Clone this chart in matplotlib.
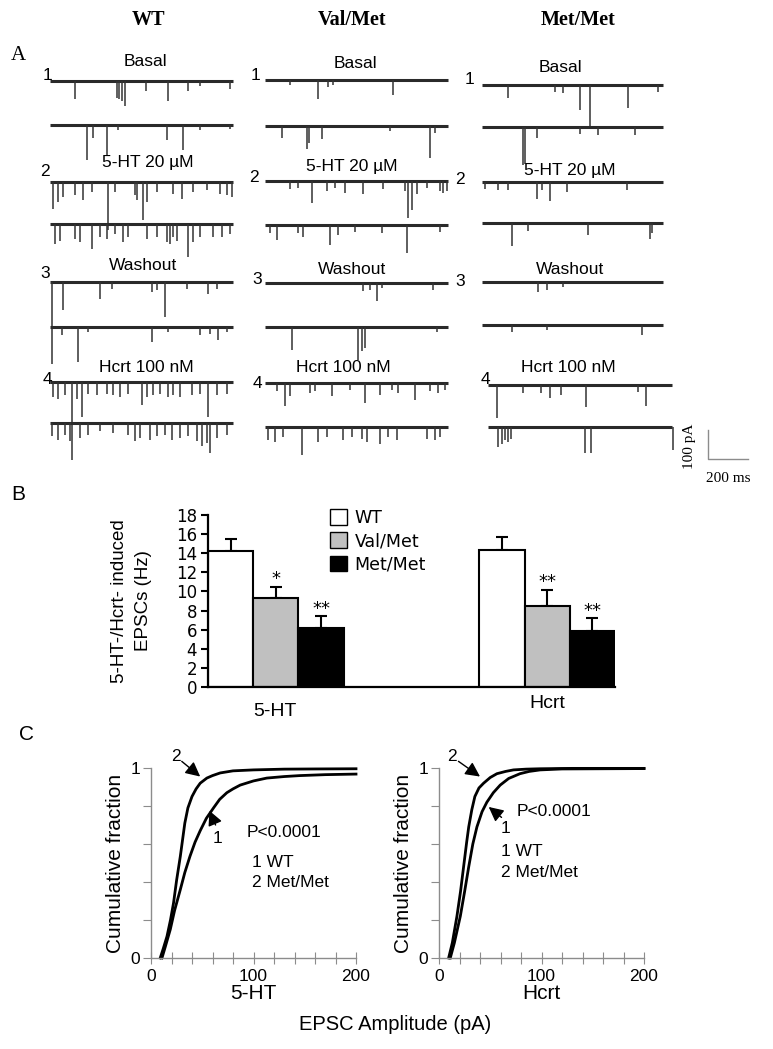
import matplotlib
matplotlib.use('Agg')
import matplotlib.pyplot as plt
from matplotlib.patches import Patch

W, H = 773, 1049

# ---- panel A: EPSC events per trace, (time ms, amplitude pA) ----
genotypes = ['WT', 'Val/Met', 'Met/Met']
conditions = ['Basal', '5-HT 20 µM', 'Washout', 'Hcrt 100 nM']

wt_events = [
    [(125, 63), (337, 58), (347, 63), (358, 69), (375, 86), (478, 35), (592, 69), (692, 35), (750, 17), (900, 29)],
    [(187, 120), (217, 46), (283, 103), (342, 17), (583, 52), (667, 86), (750, 17), (900, 15)],
    [(17, 92), (42, 69), (67, 52), (125, 46), (167, 63), (208, 35), (292, 167), (325, 35), (425, 46), (433, 63),
     (467, 132), (483, 69), (533, 35), (617, 40), (658, 58), (717, 35), (783, 29), (850, 40), (883, 46), (908, 52)],
    [(25, 69), (50, 58), (125, 52), (150, 63), (208, 86), (250, 46), (283, 52), (325, 35), (367, 63), (392, 46),
     (483, 52), (533, 46), (583, 63), (600, 69), (617, 46), (633, 58), (692, 115), (717, 63), (750, 46), (817, 46),
     (858, 46), (900, 35)],
    [(8, 282), (67, 98), (250, 58), (308, 23), (508, 35), (533, 29), (575, 121), (683, 23), (792, 40), (833, 23)],
    [(58, 29), (142, 121), (192, 17), (508, 52), (592, 17), (750, 29), (800, 23), (842, 46), (883, 17)],
    [(17, 52), (42, 58), (75, 46), (108, 270), (133, 58), (158, 121), (192, 40), (233, 46), (283, 40), (317, 46),
     (350, 52), (392, 40), (458, 80), (483, 52), (517, 46), (550, 40), (592, 52), (617, 46), (650, 52), (708, 46),
     (750, 40), (792, 121), (833, 46), (883, 40)],
    [(8, 46), (42, 58), (75, 40), (100, 63), (150, 52), (192, 40), (250, 29), (317, 35), (392, 40), (425, 63),
     (450, 52), (500, 58), (533, 46), (575, 40), (608, 58), (650, 52), (692, 46), (733, 63), (758, 80), (783, 69),
     (800, 104), (833, 52), (883, 40)],
]

valmet_events = [
    [(125, 17), (267, 66), (317, 23), (342, 17), (642, 52)],
    [(83, 40), (208, 80), (222, 58), (283, 46), (625, 17), (825, 112), (850, 23)],
    [(125, 29), (167, 23), (233, 77), (308, 35), (350, 23), (400, 40), (492, 46), (592, 29), (700, 35), (717, 129),
     (733, 100), (758, 46), (808, 23), (875, 35), (892, 40), (908, 35)],
    [(25, 29), (58, 52), (167, 29), (192, 40), (325, 69), (367, 35), (450, 23), (583, 29), (708, 98), (875, 23)],
    [(492, 29), (525, 23), (558, 63), (583, 17), (842, 23)],
    [(133, 78), (467, 113), (483, 84), (500, 72), (858, 17)],
    [(58, 29), (100, 80), (125, 46), (225, 35), (250, 29), (333, 46), (425, 23), (500, 69), (575, 40), (633, 23),
     (667, 35), (750, 58), (825, 29), (867, 35), (900, 23)],
    [(17, 46), (50, 52), (92, 35), (183, 95), (267, 52), (308, 35), (392, 46), (433, 35), (483, 40), (508, 52),
     (575, 58), (617, 35), (658, 46), (808, 40), (850, 46), (875, 35)],
]

metmet_events = [
    [(130, 46), (365, 23), (407, 29), (490, 86), (540, 144), (732, 80), (882, 23)],
    [(207, 130), (215, 126), (273, 38), (490, 23), (582, 29), (765, 29)],
    [(15, 23), (80, 29), (130, 29), (275, 60), (300, 29), (340, 67), (423, 35), (723, 29)],
    [(150, 80), (232, 29), (532, 40), (840, 55), (848, 35)],
    [(282, 35), (323, 29), (407, 17)],
    [(148, 23), (323, 17), (798, 35)],
    [(45, 115), (175, 29), (267, 29), (308, 46), (367, 35), (492, 77), (750, 23), (792, 71)],
    [(50, 69), (70, 60), (83, 46), (100, 52), (117, 40), (483, 90), (517, 90), (925, 78)],
]

# ---- panel B: EPSC frequency (Hz) ----
groups = ['5-HT', 'Hcrt']
freq_5ht = [14.2, 9.3, 6.2]
err_5ht = [1.3, 1.2, 1.2]
freq_hcrt = [14.3, 8.5, 5.9]
err_hcrt = [1.4, 1.7, 1.3]
stars_5ht = ['', '*', '**']
stars_hcrt = ['', '**', '**']

# ---- panel C: cumulative fraction of EPSC amplitude (pA) ----
ht_met_x = [9, 12, 15.6, 19, 22, 25, 28.6, 33, 36, 40, 44, 48, 54.5, 60, 67.5, 80, 100, 130, 160, 200]
ht_met_y = [0, 0.05, 0.114, 0.2, 0.29, 0.41, 0.535, 0.71, 0.79, 0.85, 0.89, 0.92, 0.947, 0.96, 0.974, 0.985,
            0.99, 0.994, 0.995, 0.996]
ht_wt_x = [10.7, 14, 18.8, 23, 28.6, 33, 38, 43, 48, 54, 61, 67, 74, 80, 87, 100, 113, 130, 145, 170, 200]
ht_wt_y = [0, 0.06, 0.15, 0.25, 0.36, 0.45, 0.535, 0.61, 0.67, 0.735, 0.79, 0.835, 0.87, 0.89, 0.91, 0.932,
           0.947, 0.955, 0.96, 0.965, 0.968]
hc_met_x = [9.4, 13, 17.5, 21, 24, 27, 29, 32, 35, 39, 43.5, 50, 56.5, 65, 72.7, 85, 98.7, 130, 200]
hc_met_y = [0, 0.08, 0.22, 0.35, 0.48, 0.61, 0.69, 0.78, 0.85, 0.895, 0.92, 0.95, 0.97, 0.982, 0.99, 0.994,
            0.996, 0.998, 0.998]
hc_wt_x = [11, 15, 20.8, 25, 29, 33, 37, 42, 46.7, 53, 59.7, 68, 79, 88, 98.7, 120, 200]
hc_wt_y = [0, 0.08, 0.22, 0.35, 0.48, 0.6, 0.69, 0.77, 0.82, 0.87, 0.91, 0.945, 0.97, 0.982, 0.99, 0.995, 0.997]

SANS = 'Liberation Sans'
SERIF = 'Liberation Serif'
VERD = 'DejaVu Sans'

fig = plt.figure(figsize=(W / 100, H / 100), dpi=100)


def px_axes(x0, y0, x1, y1):
    return fig.add_axes([x0 / W, 1 - y1 / H, (x1 - x0) / W, (y1 - y0) / H])


# overlay in pixel coordinates for panel A and letters
axA = fig.add_axes([0, 0, 1, 1])
axA.set_xlim(0, W)
axA.set_ylim(H, 0)
axA.axis('off')

SX = 40 / 200   # px per ms
SY = 29 / 100   # px per pA

col_x0 = [50, 265, 482]
col_dur = [915, 915, 905]
col_base = [[81, 125, 182, 224, 282, 327, 382, 423],
            [80, 126, 181, 225, 283, 327, 383, 427],
            [85, 127, 182, 223, 282, 325, 385, 427]]
head_x = [148, 352, 578]
cond_pos = [[(145, 62), (148, 163), (143, 266), (146, 368)],
            [(355, 64), (352, 166), (352, 270), (343, 368)],
            [(560, 68), (570, 170), (570, 270), (568, 367)]]
num_pos = [[(48, 76), (45, 172), (45, 273), (47, 380)],
           [(256, 75), (254, 177), (257, 280), (257, 383)],
           [(470, 79), (460, 180), (460, 282), (485, 380)]]

all_events = [wt_events, valmet_events, metmet_events]
for c in range(3):
    axA.text(head_x[c], 20, genotypes[c], family=SERIF, weight='bold', fontsize=14.5, ha='center', va='center')
    for r in range(4):
        cx, cy = cond_pos[c][r]
        axA.text(cx, cy, conditions[r], family=SANS, fontsize=12.5, ha='center', va='center')
        nx, ny = num_pos[c][r]
        axA.text(nx, ny, str(r + 1), family=SANS, fontsize=12.5, ha='center', va='center')
    for k in range(8):
        x0 = col_x0[c]
        dur = col_dur[c]
        if c == 2 and k >= 6:
            x0, dur = 488, 920
        y0 = col_base[c][k]
        ev = all_events[c][k]
        axA.hlines(y0, x0, x0 + dur * SX, color='#2a2a2a', lw=2.2)
        axA.vlines([x0 + t * SX for t, a in ev], y0, [y0 + a * SY for t, a in ev], color='#333333', lw=1.1)

# scale bar
axA.plot([708, 708, 748], [430, 459, 459], color='#8c8c8c', lw=1.0)
axA.text(690, 446, '100 pA', family=SERIF, fontsize=11, rotation=90, ha='center', va='center')
axA.text(728, 478, '200 ms', family=SERIF, fontsize=11, ha='center', va='center')

axA.text(18, 55, 'A', family=SERIF, fontsize=15, ha='center', va='center')
axA.text(18, 495, 'B', family=SANS, fontsize=15, ha='center', va='center')
axA.text(27, 735, 'C', family=SANS, fontsize=15, ha='center', va='center')

# ---- panel B ----
axB = px_axes(208, 515, 615, 687)
colors = ['white', '#c0c0c0', 'black']
labels = ['WT', 'Val/Met', 'Met/Met']
for pos, vals, errs, stars in [([0.5, 1.5, 2.5], freq_5ht, err_5ht, stars_5ht),
                               ([6.5, 7.5, 8.5], freq_hcrt, err_hcrt, stars_hcrt)]:
    axB.bar(pos, vals, width=1.0, color=colors, edgecolor='black', linewidth=1.5, zorder=2)
    axB.errorbar(pos, vals, yerr=[[0, 0, 0], errs], fmt='none', ecolor='black',
                 elinewidth=1.5, capsize=4, capthick=1.5, zorder=1)
    for x, v, e, s in zip(pos, vals, errs, stars):
        if s:
            axB.text(x, v + e + 0.8, s, family=VERD, fontsize=13, ha='center', va='center')
axB.set_xlim(0, 9)
axB.set_ylim(0, 18)
axB.set_yticks(range(0, 19, 2))
axB.set_xticks([])
for s in ['top', 'right']:
    axB.spines[s].set_visible(False)
for s in ['left', 'bottom']:
    axB.spines[s].set_linewidth(1.6)
axB.tick_params(axis='y', direction='out', length=5, width=1.5, labelsize=12, pad=3)
for t in axB.get_yticklabels():
    t.set_family(VERD)
axB.set_ylabel('5-HT-/Hcrt- induced\nEPSCs (Hz)', family=SANS, fontsize=13.5, labelpad=17, linespacing=1.55)
handles = [Patch(facecolor=col, edgecolor='black', linewidth=1.0) for col in colors]
axB.legend(handles, labels, loc='upper left', bbox_to_anchor=(0.3, 1.035), frameon=False,
           prop={'family': VERD, 'size': 12.5}, handlelength=1.0, handleheight=1.0,
           handletextpad=0.4, labelspacing=0.3, borderpad=0, borderaxespad=0)
axA.text(275, 712, groups[0], family=SANS, fontsize=14, ha='center', va='center')
axA.text(547, 703, groups[1], family=SANS, fontsize=14, ha='center', va='center')

# ---- panel C ----
cum_sets = [
    (px_axes(151, 768, 356, 958), ht_wt_x, ht_wt_y, ht_met_x, ht_met_y, '5-HT',
     ((24, 1.06), (30, 1.035), (48, 0.955)), ((65, 0.63), (63, 0.70), (57, 0.775)),
     (93.6, 0.66), (98.5, 0.505)),
    (px_axes(439, 768, 644, 958), hc_wt_x, hc_wt_y, hc_met_x, hc_met_y, 'Hcrt',
     ((12.7, 1.06), (19, 1.035), (40, 0.955)), ((65, 0.68), (61, 0.74), (48.5, 0.795)),
     (76, 0.77), (60.5, 0.56)),
]
for ax, wx, wy, mx, my, name, arr2, arr1, ppos, lpos in cum_sets:
    ax.plot(wx, wy, color='black', lw=2.0, clip_on=False)
    ax.plot(mx, my, color='black', lw=2.0, clip_on=False)
    ax.set_xlim(0, 200)
    ax.set_ylim(0, 1)
    for s in ['top', 'right']:
        ax.spines[s].set_visible(False)
    for s in ['left', 'bottom']:
        ax.spines[s].set_color('#8c8c8c')
        ax.spines[s].set_linewidth(1.0)
    ax.set_yticks([0, 0.2, 0.4, 0.6, 0.8, 1.0])
    ax.set_yticklabels(['0', '', '', '', '', '1'])
    ax.set_xticks(range(0, 201, 20))
    ax.set_xticklabels(['0', '', '', '', '', '100', '', '', '', '', '200'])
    ax.tick_params(axis='y', direction='out', length=6, color='#8c8c8c', labelsize=12.5, pad=2)
    ax.tick_params(axis='x', direction='inout', length=8, color='#8c8c8c', labelsize=12.5, pad=4)
    for t in ax.get_xticklabels() + ax.get_yticklabels():
        t.set_family(SANS)
    ax.set_xlabel(name, family=SANS, fontsize=15, labelpad=0)
    ax.set_ylabel('Cumulative fraction', family=SANS, fontsize=15, labelpad=4)
    for lab, (txt, tail, head) in zip(['2', '1'], [arr2, arr1]):
        ax.text(txt[0], txt[1], lab, family=SANS, fontsize=12.5, ha='center', va='center')
        ax.annotate('', xy=head, xytext=tail, annotation_clip=False,
                    arrowprops=dict(arrowstyle='-|>', color='black', lw=1.0, mutation_scale=22,
                                    shrinkA=0, shrinkB=0))
    ax.text(ppos[0], ppos[1], 'P<0.0001', family=SANS, fontsize=12.5, ha='left', va='center')
    ax.text(lpos[0], lpos[1], '1 WT', family=SANS, fontsize=12.5, ha='left', va='center')
    ax.text(lpos[0], lpos[1] - 0.11, '2 Met/Met', family=SANS, fontsize=12.5, ha='left', va='center')

axA.text(395, 1025, 'EPSC Amplitude (pA)', family=SANS, fontsize=14.5, ha='center', va='center')

fig.savefig('out.png', dpi=100)
